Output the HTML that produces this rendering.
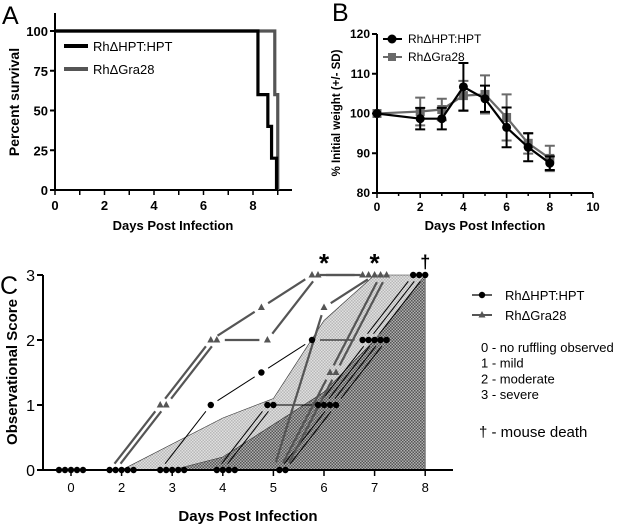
<!DOCTYPE html>
<html><head><meta charset="utf-8"><style>
body{margin:0;background:#fff}
svg{display:block;font-family:"Liberation Sans",Arial,sans-serif}
</style></head><body>
<svg id="fig" width="625" height="526" viewBox="0 0 625 526">
<defs>
<pattern id="lightp" width="3" height="3" patternUnits="userSpaceOnUse"><rect width="3" height="3" fill="#e0e0e0"/><rect width="1.5" height="1.5" fill="#b8b8b8"/><rect x="1.5" y="1.5" width="1.5" height="1.5" fill="#b8b8b8"/></pattern>
<pattern id="darkp" width="3" height="3" patternUnits="userSpaceOnUse"><rect width="3" height="3" fill="#b0b0b0"/><rect width="1.5" height="1.5" fill="#555"/><rect x="1.5" y="1.5" width="1.5" height="1.5" fill="#555"/></pattern>
</defs>
<g id="A"></g>
<g id="B"></g>
<g id="C"></g>
</svg>
<script>
// ---------- Panel A data ----------
const survHptDays = [0, 8.2, 8.6, 8.75, 8.95];
const survHptVals = [100, 60, 40, 20, 0];
const survGraDays = [0, 8.88, 9.0, 9.0];
const survGraVals = [100, 60, 20, 0];
const survYTicks = [0, 25, 50, 75, 100];
const survXTicks = [0, 2, 4, 6, 8];
// ---------- Panel B data ----------
const wDays = [0, 2, 3, 4, 5, 6, 7, 8];
const wHpt = [100, 98.7, 98.7, 106.7, 103.7, 96.5, 91.5, 87.5];
const wHptSD = [0, 2.7, 2.7, 6, 3.3, 5, 3.5, 1.7];
const wGra = [100, 100.5, 101, 104.5, 104.8, 99, 92.5, 88.7];
const wGraSD = [0, 3.5, 2.7, 3.7, 4.8, 5.8, 2.6, 3.2];
const wYTicks = [80, 90, 100, 110, 120];
const wXTicks = [0, 2, 4, 6, 8, 10];
// ---------- Panel C data ----------
const cDayLabels = ["0", "2", "3", "4", "5", "6", "7", "8"];
const cYTicks = [0, 1, 2, 3];
const hptMice = [
  [0, 0, 0, 1, 1.5, 2, 2, 3],
  [0, 0, 0, 0, 1, 1, 2, 3],
  [0, 0, 0, 0, 1, 1, 2, 3],
  [0, 0, 0, 0, 0, 1, 2, null],
  [0, 0, 0, 0, 0, 1, 2, null]
];
const graMice = [
  [0, 0, 1, 2, 2.5, 3, 3, null],
  [0, 0, 1, 2, 2, 3, 3, null],
  [0, 0, 0, 0, 0, 2.5, 3, null],
  [0, 0, 0, 0, 0, 1.5, 3, null],
  [0, 0, 0, 0, 0, 1.5, 3, null]
];
const lightArea = [0, 0.4, 0.8, 1.1, 2.3, 3, 3];   // from day index 1
const darkArea = [0, 0.2, 0.7, 1.2, 2, 3];          // from day index 2
const cMarks = [["*", 5], ["*", 6], ["†", 7]];

const NS = "http://www.w3.org/2000/svg";
function el(parent, tag, attrs, text) {
  const e = document.createElementNS(NS, tag);
  for (const k in attrs) e.setAttribute(k, attrs[k]);
  if (text !== undefined) e.textContent = text;
  parent.appendChild(e);
  return e;
}

// ================= Panel A =================
(function () {
  const g = document.getElementById("A");
  const x = d => 55 + d * 24.75, y = v => 190 - v * 1.59;
  let t = el(g, "text", {x: 2, y: 24, "font-size": 25}, "A");
   
  let ax = el(g, "path", {d: `M55,13V190H292`, stroke: "#000", "stroke-width": 2, fill: "none"});
   
  for (let d = 0; d <= 9; d++) el(g, "line", {x1: x(d), x2: x(d), y1: 190, y2: 195, stroke: "#000", "stroke-width": 1.5});
  survXTicks.forEach(d => {
    const e = el(g, "text", {x: x(d), y: 210, "font-size": 13, "font-weight": "bold", "text-anchor": "middle"}, d);
     
  });
  survYTicks.forEach(v => {
    el(g, "line", {x1: 50, x2: 55, y1: y(v), y2: y(v), stroke: "#000", "stroke-width": 2});
    const e = el(g, "text", {x: 48, y: y(v) + 5, "font-size": 13, "font-weight": "bold", "text-anchor": "end"}, v);
     
  });
  t = el(g, "text", {x: 173, y: 230, "font-size": 13, "font-weight": "bold", "text-anchor": "middle"}, "Days Post Infection");
   
  t = el(g, "text", {transform: "translate(19,102) rotate(-90)", "font-size": 14, "font-weight": "bold", "text-anchor": "middle"}, "Percent survival");
   
  function step(days, vals, color, name) {
    let d = `M${x(days[0])},${y(vals[0])}`;
    for (let i = 1; i < days.length; i++) d += `H${x(days[i])}V${y(vals[i])}`;
    const p = el(g, "path", {d, stroke: color, "stroke-width": 3.2, fill: "none"});
     
  }
  step(survGraDays, survGraVals, "#555", "a-line-gra28");
  step(survHptDays, survHptVals, "#000", "a-line-hpt");
  [["RhΔHPT:HPT", "#000", 46], ["RhΔGra28", "#555", 69]].forEach(([lab, c, yy]) => {
    const lg = el(g, "g", {});
     
    el(lg, "line", {x1: 64, x2: 88, y1: yy, y2: yy, stroke: c, "stroke-width": 4});
    el(lg, "text", {x: 93, y: yy + 5, "font-size": 13}, lab);
  });
})();

// ================= Panel B =================
(function () {
  const g = document.getElementById("B");
  const x = d => 377 + d * 21.6, y = v => 193 - (v - 80) * 3.975;
  let t = el(g, "text", {x: 332, y: 21, "font-size": 25}, "B");
   
  let ax = el(g, "path", {d: `M377,34V193H593`, stroke: "#000", "stroke-width": 2, fill: "none"});
   
  for (let d = 0; d <= 10; d++) el(g, "line", {x1: x(d), x2: x(d), y1: 193, y2: d % 2 ? 196 : 198, stroke: "#000", "stroke-width": 1.5});
  wXTicks.forEach(d => {
    const e = el(g, "text", {x: x(d), y: 211, "font-size": 12, "font-weight": "bold", "text-anchor": "middle"}, d);
     
  });
  wYTicks.forEach(v => {
    el(g, "line", {x1: 372, x2: 377, y1: y(v), y2: y(v), stroke: "#000", "stroke-width": 2});
    const e = el(g, "text", {x: 370, y: y(v) + 4, "font-size": 12, "font-weight": "bold", "text-anchor": "end"}, v);
     
  });
  t = el(g, "text", {x: 485, y: 230, "font-size": 13, "font-weight": "bold", "text-anchor": "middle"}, "Days Post Infection");
   
  t = el(g, "text", {transform: "translate(340,113) rotate(-90)", "font-size": 11.5, "font-weight": "bold", "text-anchor": "middle"}, "% Initial weight (+/- SD)");
   
  function series(vals, sd, color, shape, name) {
    const sg = el(g, "g", {});
     
    el(sg, "polyline", {points: wDays.map((d, i) => `${x(d)},${y(vals[i])}`).join(" "), stroke: color, "stroke-width": 2.2, fill: "none"});
    wDays.forEach((d, i) => {
      if (sd[i] > 0) {
        const top = y(vals[i] + sd[i]), bot = y(vals[i] - sd[i]);
        el(sg, "path", {d: `M${x(d)},${top}V${bot}M${x(d) - 5},${top}h10M${x(d) - 5},${bot}h10`, stroke: color, "stroke-width": 2, fill: "none"});
      }
      const m = shape === "c" ? el(sg, "circle", {cx: x(d), cy: y(vals[i]), r: 4.5, fill: color})
        : el(sg, "rect", {x: x(d) - 4.5, y: y(vals[i]) - 4.5, width: 9, height: 9, fill: color});
       
    });
  }
  series(wGra, wGraSD, "#6a6a6a", "s", "b-series-gra28");
  series(wHpt, wHptSD, "#000", "c", "b-series-hpt");
  [["RhΔHPT:HPT", "#000", 39, "c"], ["RhΔGra28", "#6a6a6a", 57, "s"]].forEach(([lab, c, yy, s]) => {
    const lg = el(g, "g", {});
     
    el(lg, "line", {x1: 383, x2: 402, y1: yy, y2: yy, stroke: c, "stroke-width": 2});
    if (s === "c") el(lg, "circle", {cx: 392, cy: yy, r: 4.5, fill: c});
    else el(lg, "rect", {x: 388, y: yy - 4, width: 8, height: 8, fill: c});
    el(lg, "text", {x: 408, y: yy + 4, "font-size": 12}, lab);
  });
})();

// ================= Panel C =================
(function () {
  const g = document.getElementById("C");
  const x = i => 71 + i * 50.6, y = v => 470 - v * 65;
  let t = el(g, "text", {x: 0, y: 294, "font-size": 25}, "C");
   
  let pts = lightArea.map((v, k) => `${x(k + 1)},${y(v)}`);
  pts.push(`${x(7)},${y(0)}`);
  let a = el(g, "polygon", {points: pts.join(" "), fill: "url(#lightp)", stroke: "#333", "stroke-width": 0.6});
   
  pts = darkArea.map((v, k) => `${x(k + 2)},${y(v)}`);
  pts.push(`${x(7)},${y(0)}`);
  a = el(g, "polygon", {points: pts.join(" "), fill: "url(#darkp)", stroke: "#333", "stroke-width": 0.6});
   
  let ax = el(g, "path", {d: `M43,275V470H453`, stroke: "#000", "stroke-width": 2, fill: "none"});
   
  cDayLabels.forEach((lab, i) => {
    el(g, "line", {x1: x(i), x2: x(i), y1: 470, y2: 476, stroke: "#000", "stroke-width": 1.5});
    const e = el(g, "text", {x: x(i), y: 492, "font-size": 13, "text-anchor": "middle"}, lab);
     
  });
  cYTicks.forEach(v => {
    el(g, "line", {x1: 37, x2: 43, y1: y(v), y2: y(v), stroke: "#000", "stroke-width": 2});
    const e = el(g, "text", {x: 35, y: y(v) + 6, "font-size": 16, "text-anchor": "end"}, v);
     
  });
  t = el(g, "text", {x: 248, y: 521, "font-size": 15, "font-weight": "bold", "text-anchor": "middle"}, "Days Post Infection");
   
  t = el(g, "text", {transform: "translate(17,372) rotate(-90)", "font-size": 15, "font-weight": "bold", "text-anchor": "middle"}, "Observational Score");
   
  function mice(group, color, lw, shape, name, lines) {
    group.forEach((m, mi) => {
      const off = (mi - 2) * 6;
      const sg = el(g, "g", {});
       
      if (lines) for (let i = 0; i < m.length - 1; i++) {
        if (m[i] === null || m[i + 1] === null || (m[i] === 0 && m[i + 1] === 0)) continue;
        const x1 = x(i) + off, y1 = y(m[i]), x2 = x(i + 1) + off, y2 = y(m[i + 1]);
        const L = Math.hypot(x2 - x1, y2 - y1), s = Math.min(8, L / 4);
        const ux = (x2 - x1) / L, uy = (y2 - y1) / L;
        el(sg, "line", {x1: x1 + ux * s, y1: y1 + uy * s, x2: x2 - ux * s, y2: y2 - uy * s, stroke: color, "stroke-width": lw});
      }
      if (!lines) m.forEach((v, i) => {
        if (v === null || (shape === "t" && v === 0)) return;
        const cx = x(i) + off, cy = y(v);
        const mk = shape === "c" ? el(sg, "circle", {cx, cy, r: 3.2, fill: "#000"})
          : el(sg, "polygon", {points: `${cx},${cy - 4} ${cx - 3.5},${cy + 2.5} ${cx + 3.5},${cy + 2.5}`, fill: "#555"});
         
      });
    });
  }
  mice(hptMice, "#000", 1, "c", "c-hpt", true);
  mice(graMice, "#555", 2.2, "t", "c-gra28", true);
  mice(graMice, "#555", 2.2, "t", "c-gra28", false);
  mice(hptMice, "#000", 1, "c", "c-hpt", false);
  cMarks.forEach(([s, i]) => {
    const e = el(g, "text", {x: x(i), y: s === "*" ? 272 : 268, "font-size": s === "*" ? 26 : 18, "font-weight": "bold", "text-anchor": "middle"}, s);
     
  });
  [["RhΔHPT:HPT", "c", 295], ["RhΔGra28", "t", 315]].forEach(([lab, s, yy]) => {
    const lg = el(g, "g", {});
     
    el(lg, "line", {x1: 472, x2: 492, y1: yy, y2: yy, stroke: s === "c" ? "#000" : "#555", "stroke-width": s === "c" ? 1.2 : 2});
    if (s === "c") el(lg, "circle", {cx: 482, cy: yy, r: 3.2, fill: "#000"});
    else el(lg, "polygon", {points: `482,${yy - 4} 478.5,${yy + 2.5} 485.5,${yy + 2.5}`, fill: "#555"});
    el(lg, "text", {x: 505, y: yy + 5, "font-size": 13}, lab);
  });
  ["0 - no ruffling observed", "1 - mild", "2 - moderate", "3 - severe"].forEach((s, i) => {
    const e = el(g, "text", {x: 481, y: 352 + i * 15.7, "font-size": 13}, s);
     
  });
  t = el(g, "text", {x: 479, y: 437, "font-size": 15}, "† - mouse death");
   
})();
</script>
</body></html>
